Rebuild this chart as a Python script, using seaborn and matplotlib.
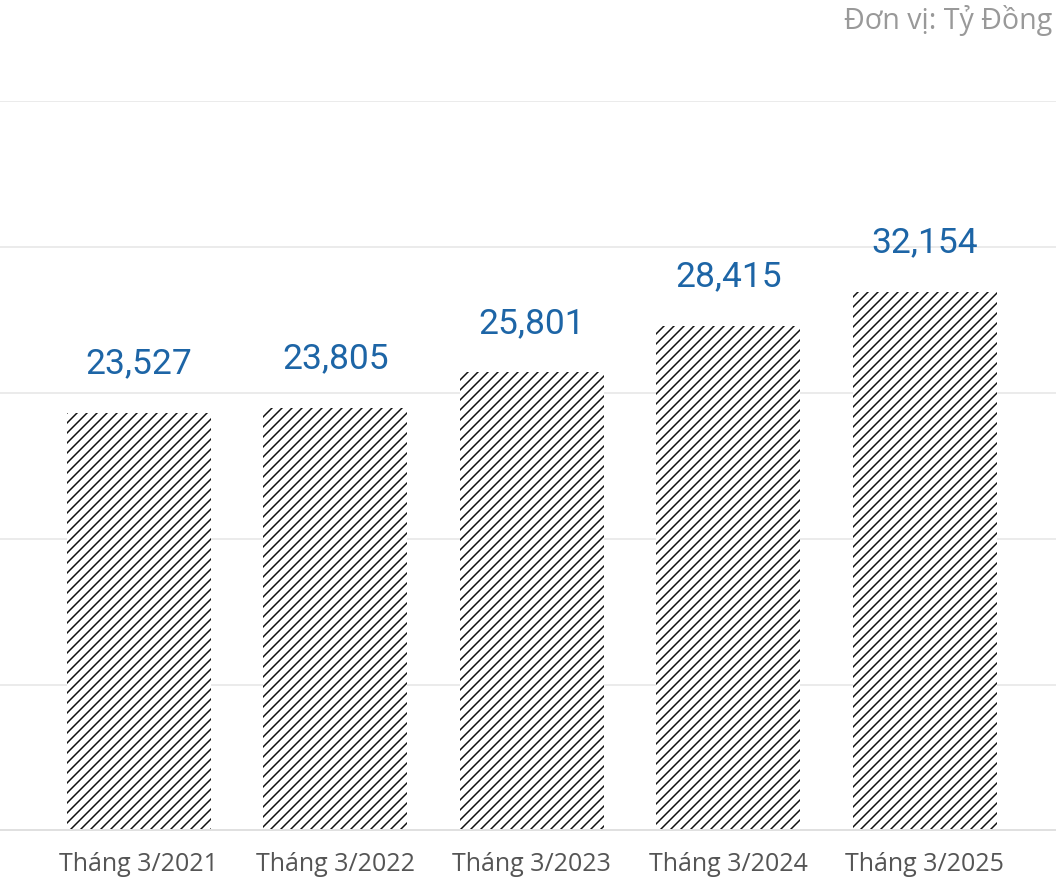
import numpy as np
import matplotlib
matplotlib.use("Agg")
import matplotlib.pyplot as plt
import seaborn as sns

categories = ["Tháng 3/2021", "Tháng 3/2022", "Tháng 3/2023", "Tháng 3/2024", "Tháng 3/2025"]
# bar heights as drawn in the picture (last bar is drawn shorter than its label)
bar_values = [23527, 23805, 25801, 28415, 30330]
value_labels = ["23,527", "23,805", "25,801", "28,415", "32,154"]
unit_text = "Đơn vị: Tỷ Đồng"

sns.set_theme(style="white")
plt.rcParams["font.family"] = ["Open Sans", "DejaVu Sans"]
plt.rcParams["hatch.linewidth"] = 0.9
plt.rcParams["hatch.color"] = "#111111"

fig = plt.figure(figsize=(8.8, 880 / 120), dpi=120)
ax = fig.add_axes([0, 49 / 880, 1, 730 / 880])

sns.barplot(x=categories, y=bar_values, ax=ax, width=0.733, color="white",
            edgecolor="#111111", linewidth=0, hatch="////", saturation=1)

ymax = 41060
ax.set_ylim(0, ymax)
ax.set_xlim(-0.707, 4.667)
ax.set_yticks(np.linspace(0, ymax, 6))
ax.yaxis.grid(True, color="#ebebeb", linewidth=1.2)
ax.set_axisbelow(True)
ax.set_yticklabels([])
ax.tick_params(axis="y", length=0)
for s in ax.spines.values():
    s.set_visible(False)
ax.axhline(0, color="#e0e0e0", linewidth=2.4, zorder=5)

ax.tick_params(axis="x", length=0, pad=12.5, labelsize=15, labelcolor="#555555")
ax.set_xlabel("")
ax.set_ylabel("")

for i, (v, lab) in enumerate(zip(bar_values, value_labels)):
    ax.annotate(lab, (i, v), xytext=(0, 23.7), textcoords="offset points",
                ha="center", va="baseline", fontsize=21.2, color="#1d65a6",
                family=["Roboto", "DejaVu Sans"])

fig.text(1052 / 1056, 1 - 28.5 / 880, unit_text, ha="right", va="baseline",
         fontsize=17.2, color="#999999")

fig.savefig("out.png", dpi=120)
